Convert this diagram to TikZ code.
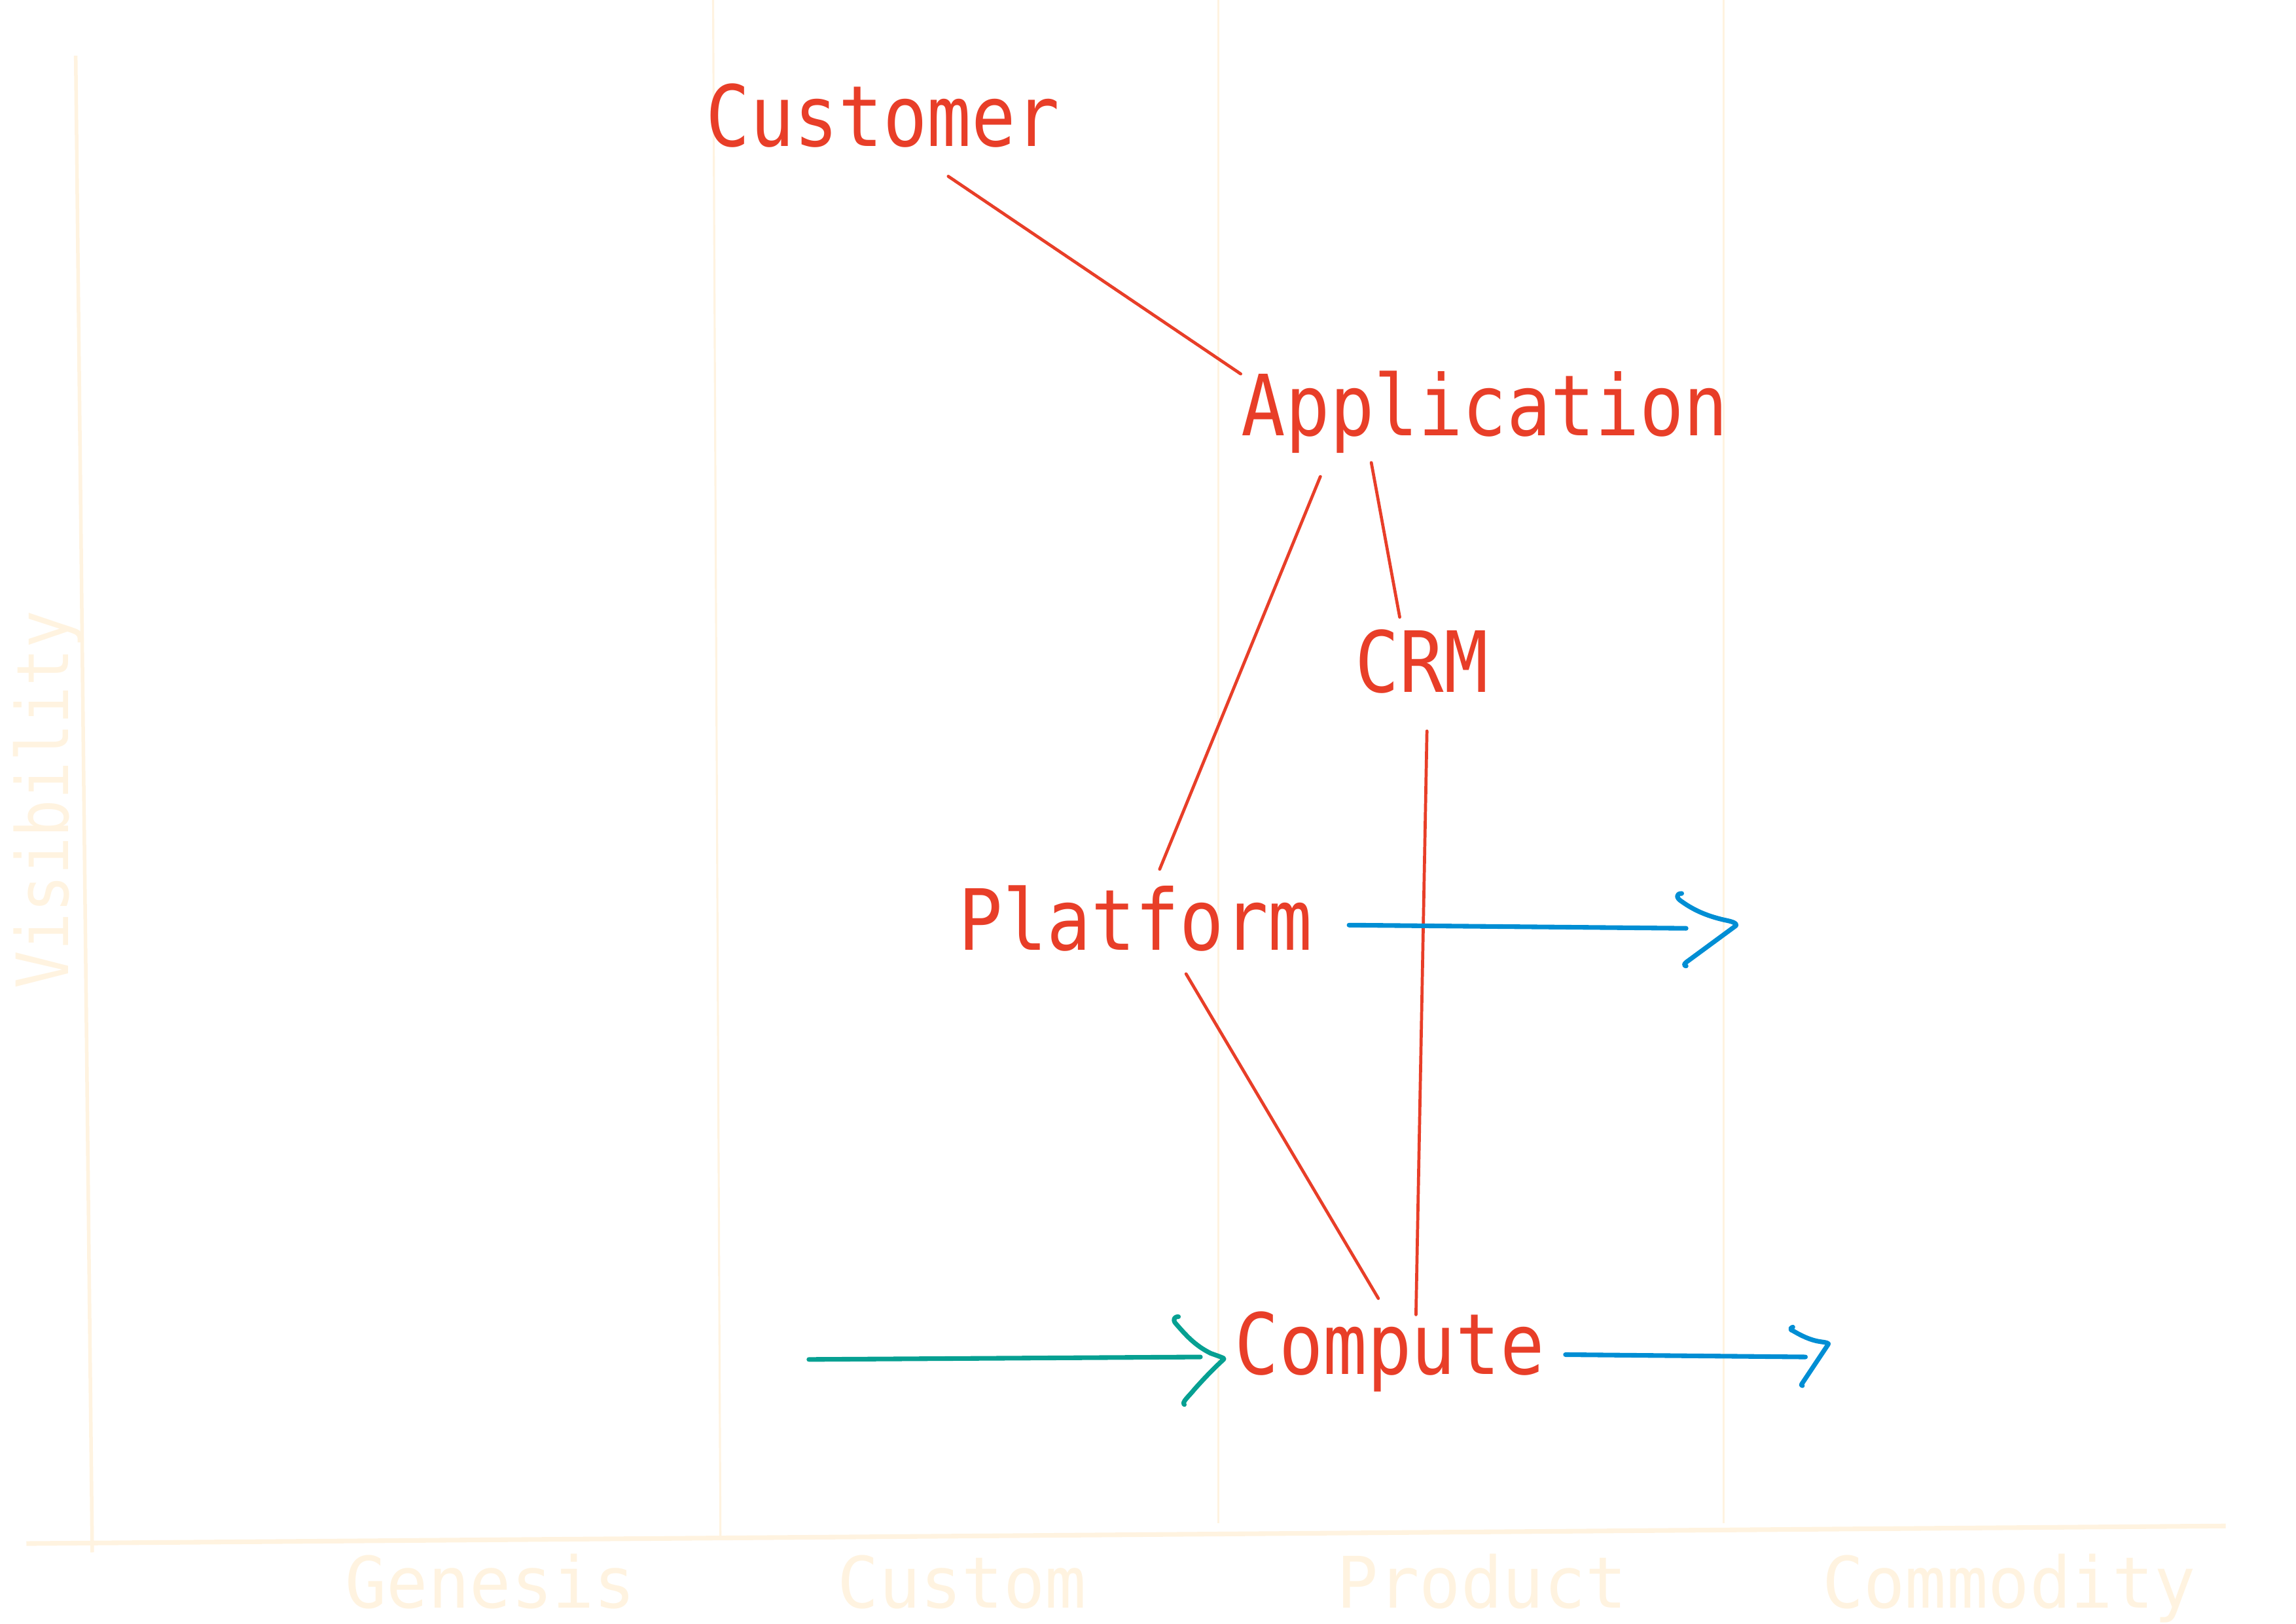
\documentclass[tikz,border=0pt]{standalone}
\usepackage{fontspec}
\usepackage{tikz}
\usepackage{xcolor}
\usetikzlibrary{calc,
	positioning}
\newfontfamily\mapfont[FakeStretch=0.87]{DejaVu Sans Mono}
\newfontfamily\axisfont[FakeStretch=0.97]{DejaVu Sans Mono}
\definecolor{wred}{RGB}{232,62,40}
\definecolor{wteal}{RGB}{6,160,146}
\definecolor{wblue}{RGB}{0,142,212}
\definecolor{wcream}{RGB}{255,243,224}
\tikzstyle{cmpt}=[text=wred, inner sep=0, anchor=base,
		font=\mapfont\fontsize{16.4}{18}\selectfont]
\tikzstyle{dep}=[draw=wred, line width=0.6pt, line cap=round]
\tikzstyle{evo}=[line width=0.9pt, line cap=round, line join=round]
\tikzstyle{mapframe}=[draw=wcream, line width=0.7pt]
\tikzstyle{stagesep}=[draw=wcream, line width=0.4pt]
\tikzstyle{stagelbl}=[text=wcream, inner sep=0, anchor=base,
		font=\axisfont\fontsize{13.8}{16}\selectfont]

\begin{document}
\begin{tikzpicture}[x=0.01cm, y=-0.01cm]
                \useasboundingbox (0,0) rectangle (1568,1108.6);
                % map frame
                \draw[mapframe] (51.7,38) -- (63,1060);
                \draw[mapframe, line width=0.9pt] (18,1054) -- (1520,1042);
                \draw[stagesep] (487,0) -- (492,1050);
                \draw[stagesep] (832,0) -- (832,1040);
                \draw[stagesep] (1177,0) -- (1177,1040);
                \node[stagelbl] (genesis) at (335,1098) {Genesis};
                \node[stagelbl] (custom) at (657,1098) {Custom};
                \node[stagelbl] (product) at (1012,1098) {Product};
                \node[stagelbl] (commodity) at (1372,1098) {Commodity};
                \node[stagelbl, rotate=90, font=\mapfont\fontsize{14}{16}\selectfont] (visibility) at (46.5,546) {Visibility};

                % components
                \node[cmpt] (cust) at (603,100) {Customer};
                \node[cmpt] (app) at (1014,297.5) {Application};
                \node[cmpt] (crm) at (971,472.5) {CRM};
                \node[cmpt] (plat) at (775.5,649) {Platform};
                \node[cmpt] (compute) at (949,938.5) {Compute};

                % dependencies
                \draw[dep] ($(cust.base)+(44.6,20.4)$) -- ($(app.base)+(-166.7,-42.2)$);
                \draw[dep] ($(app.base)+(-112.3,27.9)$) -- ($(plat.base)+(16.5,-55.5)$);
                \draw[dep] ($(app.base)+(-77.5,18.4)$) -- ($(crm.base)+(-15.1,-51.1)$);
                \draw[dep] ($(crm.base)+(3.5,26.7)$) -- ($(compute.base)+(18,-40.8)$);
                \draw[dep] ($(plat.base)+(34.5,16)$) -- ($(compute.base)+(-7.7,-51.9)$);

                % evolution
                \coordinate (platend) at (1151.5,633.9);
                \coordinate (plattip) at (1185.5,631.1);
                \draw[evo, wblue] ($(plat.base)+(145.8,-17.3)$) -- (platend);
                \draw[evo, wblue, shift={(plattip)}] (-37,-21) .. controls (-41,-21) and (-41,-18) .. (-37,-15.5) .. controls (-28,-9) and (-18,-5) .. (-6,-2.5) .. controls (-1,-1.5) and (1,0) .. (0,1) -- (-34,26) .. controls (-36,27.5) and (-35,28.5) .. (-34,28.5);

                \coordinate (tealstart) at (552.4,928.3);
                \coordinate (tealtip) at (835.8,927.6);
                \draw[evo, wteal] (tealstart) -- ($(compute.base)+(-129.2,-11.9)$);
                \draw[evo, wteal, shift={(tealtip)}] (-31,-28.5) .. controls (-34,-28.5) and (-35,-26.5) .. (-33,-24) .. controls (-26,-16) and (-20,-9) .. (-9,-3.5) .. controls (-2,-1) and (1,0) .. (0,0.5) .. controls (-6,6) and (-12,12) .. (-20,21) .. controls (-24,26) and (-29,30) .. (-27,31.5);

                \coordinate (compend) at (1233,926.6);
                \coordinate (comptip) at (1248.4,918.2);
                \draw[evo, wblue] ($(compute.base)+(120.1,-13.5)$) -- (compend);
                \draw[evo, wblue, shift={(comptip)}] (-24,-12) .. controls (-26,-11.5) and (-26,-10) .. (-24,-9.5) .. controls (-18,-6) and (-12,-3) .. (-5,-2) .. controls (-1,-1.5) and (1,-1) .. (0,0) -- (-17,25.5) .. controls (-18.5,27.5) and (-18.5,28) .. (-17.5,28);
            \end{tikzpicture}
\end{document}
